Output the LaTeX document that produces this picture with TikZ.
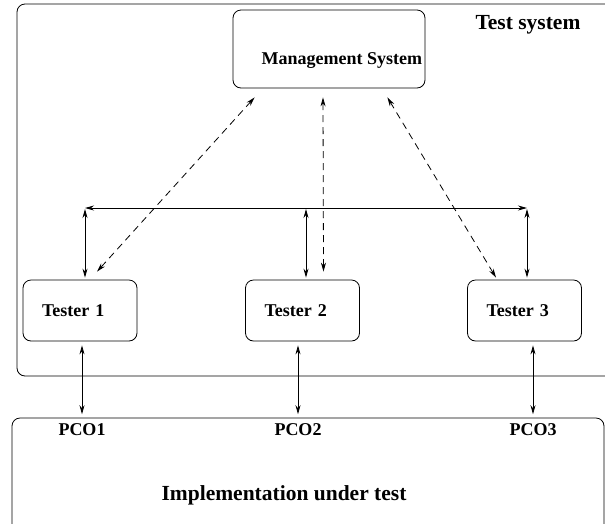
\documentclass[tikz,border=0pt]{standalone}
\usepackage{fontspec}
\setmainfont{Liberation Serif}
\usetikzlibrary{arrows.meta,calc}

\tikzset{
  unit/.style={draw, rounded corners=8pt, inner sep=0pt},
  lbl/.style={font=\fontsize{18}{21}\selectfont\bfseries},
  big/.style={font=\fontsize{21.5}{25}\selectfont\bfseries},
  tester/.style={unit, lbl, minimum width=114, minimum height=61, text width=76, align=left},
  ctrl/.style={<->, dash pattern=on 7pt off 5pt},
}

\begin{document}
\begin{tikzpicture}[x=1pt,y=-1pt,>={Stealth[length=9pt,width=5pt]},line width=0.8pt]
  \clip (0,0) rectangle (605,523);
  % frames
  \draw[rounded corners=8pt] (17,4) rectangle (640,376);
  \draw[rounded corners=8pt] (12,418) rectangle (604,560);

  \node[big] (tsys) at (528,25) {Test system};
  \node[big] (iut)  at (284,495) {Implementation under test};

  \node[unit, minimum width=192, minimum height=78] (ms) at (329,49) {};
  \node[lbl, anchor=east, inner sep=2pt] (mstxt) at ($(ms.east)+(-1,12)$) {Management System};

  \node[tester] (t1) at (80,310.5) {Tester 1};
  \node[tester] (t2) at (302.5,310.5) {Tester 2};
  \node[tester] (t3) at (524.5,310.5) {Tester 3};

  \node[lbl] (pco1) at (82,430) {PCO1};
  \node[lbl] (pco2) at (298,430) {PCO2};
  \node[lbl] (pco3) at (533,430) {PCO3};

  % bus between testers
  \coordinate (busL) at (85,208);
  \coordinate (busM) at (306,208);
  \coordinate (busR) at (527,208);
  \draw[<->] (busL) -- (busR);
  \draw[<->,shorten <=1pt,shorten >=2pt] (busL) -- (busL |- t1.north);
  \draw[<->,shorten <=1pt,shorten >=2pt] (busM) -- (busM |- t2.north);
  \draw[<->,shorten <=1pt,shorten >=2pt] (busR) -- (busR |- t3.north);

  % management links
  \draw[ctrl] ($(ms.south west)+(22,9)$) -- ($(t1.north)+(17,-8)$);
  \draw[ctrl] ($(ms.south)+(-6,9)$) -- ($(t2.north)+(21,-8)$);
  \draw[ctrl] ($(ms.south east)+(-38,9)$) -- ($(t3.north)+(-28.5,-2)$);

  % points of control and observation
  \draw[<->,shorten <=4pt,shorten >=6pt] (pco1 |- t1.south) -- (pco1.north);
  \draw[<->,shorten <=4pt,shorten >=6pt] (pco2 |- t2.south) -- (pco2.north);
  \draw[<->,shorten <=4pt,shorten >=6pt] (pco3 |- t3.south) -- (pco3.north);
\end{tikzpicture}
\end{document}
